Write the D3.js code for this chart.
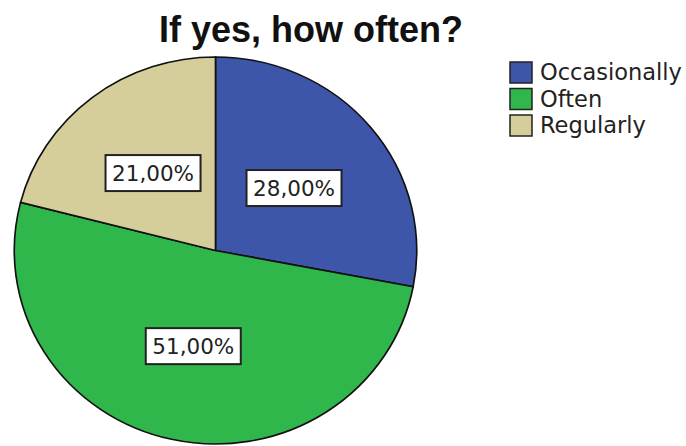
<!DOCTYPE html>
<html>
<head>
<meta charset="utf-8">
<script src="https://cdn.jsdelivr.net/npm/d3@7"></script>
<style>
  body { margin: 0; background: #fff; }
</style>
</head>
<body>
<div id="container"></div>
<script>
/* DATA */
const categories = ["Occasionally", "Often", "Regularly"];
const percents = [28, 51, 21];
const colors = ["#3d56a9", "#2fb74b", "#d5cd9a"];

/* CONSTANTS */
const width = 686, height = 446;
const cx = 215.5, cy = 250.5, r = 193.5, sx = 1.04;

const svg = d3.select("#container")
  .append("svg")
  .attr("width", width)
  .attr("height", height);

const data = categories.map((c, i) => ({ cat: c, val: percents[i], color: colors[i] }));

const pie = d3.pie().sort(null).value(d => d.val);
const arcs = pie(data);
const arc = d3.arc().innerRadius(0).outerRadius(r);
const labelArc = d3.arc().innerRadius(98).outerRadius(98);

/* title */
svg.append("text")
  .attr("x", 311)
  .attr("y", 42)
  .attr("text-anchor", "middle")
  .style("font-family", "'Liberation Sans', Arial, sans-serif")
  .style("font-weight", "bold")
  .style("font-size", "36px")
  .attr("fill", "#111")
  .text("If yes, how often?");

/* slices - image is slightly wider than tall */
const g = svg.append("g")
  .attr("transform", `translate(${cx},${cy}) scale(${sx},1)`);

g.selectAll("path.slice")
  .data(arcs)
  .join("path")
  .attr("class", "slice")
  .attr("d", arc)
  .attr("fill", d => d.data.color)
  .attr("stroke", "#111")
  .attr("stroke-width", 1.6);

/* labels with white boxes */
const fmt = v => v.toFixed(2).replace(".", ",") + "%";
const lg = svg.append("g").attr("transform", `translate(${cx},${cy})`);
const labels = lg.selectAll("g.lab")
  .data(arcs)
  .join("g")
  .attr("class", "lab")
  .attr("transform", d => {
    const [x, y] = labelArc.centroid(d);
    return `translate(${x * sx},${y})`;
  });

labels.append("rect")
  .attr("x", -47.5)
  .attr("y", -18)
  .attr("width", 95)
  .attr("height", 36)
  .attr("fill", "#fff")
  .attr("stroke", "#222")
  .attr("stroke-width", 2);

labels.append("text")
  .attr("text-anchor", "middle")
  .attr("dy", "0.36em")
  .style("font-family", "'DejaVu Sans', sans-serif")
  .style("font-size", "21.5px")
  .attr("fill", "#222")
  .text(d => fmt(d.data.val));

/* legend */
const legend = svg.append("g").attr("transform", "translate(510,62)");
const rows = legend.selectAll("g.row")
  .data(data)
  .join("g")
  .attr("class", "row")
  .attr("transform", (d, i) => `translate(0,${i * 26.5})`);

rows.append("rect")
  .attr("width", 22)
  .attr("height", 21)
  .attr("fill", d => d.color)
  .attr("stroke", "#222")
  .attr("stroke-width", 1.5);

rows.append("text")
  .attr("x", 30)
  .attr("y", 18)
  .style("font-family", "'DejaVu Sans', sans-serif")
  .style("font-size", "22.5px")
  .attr("fill", "#222")
  .text(d => d.cat);
</script>
</body>
</html>
